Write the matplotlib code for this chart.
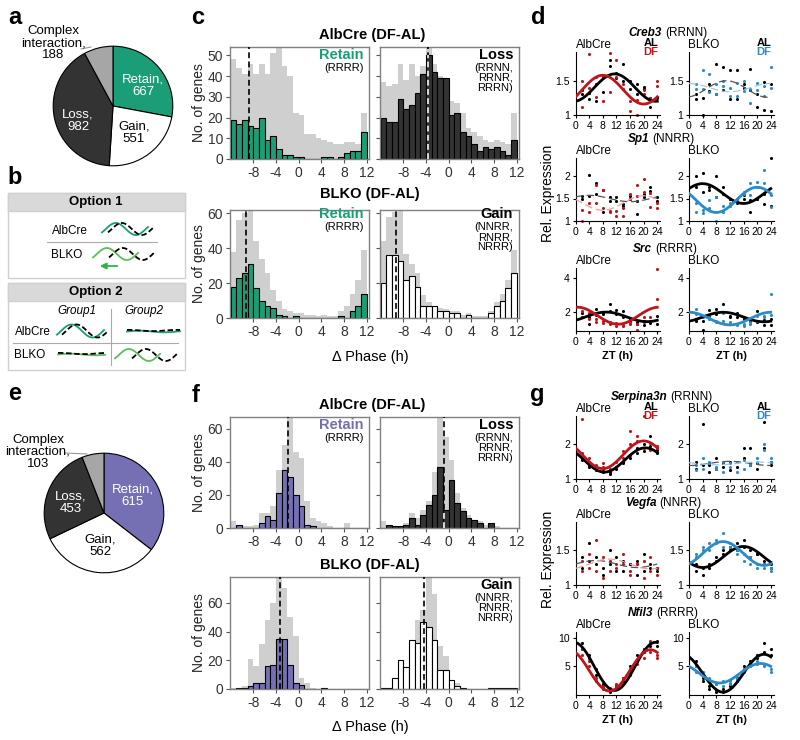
import numpy as np
import matplotlib
matplotlib.use('Agg')
import matplotlib.pyplot as plt
from matplotlib.patches import Rectangle, FancyArrowPatch
from matplotlib.ticker import FormatStrFormatter

plt.rcParams['font.family'] = ['Liberation Sans', 'DejaVu Sans']
plt.rcParams['axes.unicode_minus'] = False

W, H = 800, 740
GREEN = '#1b9e77'
PURPLE = '#7570b3'
DARK = '#333333'
CPLX = '#a6a6a6'
HGREY = '#cfcfcf'
RED = '#c0141c'
BLUE = '#2a8bcb'

# ---------------- a / e : pies ----------------
pie_labels = ['Retain', 'Gain', 'Loss', 'Complex\ninteraction']
pie_a = [667, 551, 982, 188]
pie_e = [615, 562, 453, 103]

# ---------------- c / f : delta phase histograms (1 h bins, -12..12) ----------------
bin_left = list(range(-12, 12))
retain_codes = ['RRRR']
loss_codes = ['RRNN', 'RRNR', 'RRRN']
gain_codes = ['NNRR', 'RNRR', 'NRRR']

c_alb_retain = [19, 17, 19, 16, 15, 20, 9, 11, 5, 2, 2, 1, 1, 0, 0, 0, 1, 1, 0, 1, 3, 4, 4, 13]
c_alb_retain_bg = [48, 44, 41, 46, 41, 46, 41, 51, 54, 45, 40, 22, 21, 12, 12, 10, 9, 8, 7, 7, 8, 8, 7, 22]
c_alb_loss = [20, 18, 18, 29, 24, 26, 32, 41, 50, 42, 39, 39, 21, 22, 13, 11, 7, 4, 6, 5, 6, 4, 2, 9]
c_alb_loss_bg = [37, 35, 36, 46, 38, 46, 40, 45, 54, 46, 40, 39, 28, 27, 22, 15, 13, 11, 9, 8, 9, 8, 7, 22]
c_blko_retain = [18, 23, 26, 31, 17, 10, 7, 6, 2, 1, 0, 1, 0, 0, 0, 0, 0, 0, 0, 1, 0, 4, 7, 14]
c_blko_retain_bg = [38, 56, 60, 62, 44, 34, 26, 16, 10, 5, 4, 3, 3, 2, 2, 1, 2, 1, 1, 4, 7, 14, 22, 39]
c_blko_gain = [20, 36, 36, 33, 22, 24, 18, 7, 7, 7, 4, 4, 3, 3, 0, 2, 0, 0, 0, 3, 7, 10, 17, 26]
c_blko_gain_bg = [44, 58, 61, 62, 37, 31, 26, 13, 9, 7, 6, 5, 4, 4, 2, 3, 1, 1, 1, 4, 9, 14, 22, 39]
c_medians = [-8.8, -3.6, -9.2, -9.2]

f_alb_retain = [0, 2, 0, 0, 0, 3, 7, 5, 21, 35, 31, 20, 13, 2, 1, 0, 0, 0, 0, 0, 0, 0, 0, 0]
f_alb_retain_bg = [4, 0, 1, 1, 2, 9, 9, 13, 35, 50, 70, 46, 42, 16, 6, 4, 3, 1, 0, 0, 3, 0, 0, 0]
f_alb_loss = [0, 2, 1, 1, 2, 6, 2, 8, 14, 20, 37, 11, 29, 15, 10, 6, 5, 3, 0, 3, 0, 0, 0, 0]
f_alb_loss_bg = [4, 2, 1, 1, 3, 9, 6, 11, 16, 34, 70, 55, 41, 21, 12, 8, 5, 4, 2, 3, 1, 0, 0, 0]
f_blko_retain = [0, 1, 1, 2, 4, 4, 16, 17, 35, 35, 17, 4, 3, 0, 0, 0, 1, 0, 0, 0, 0, 0, 0, 0]
f_blko_retain_bg = [1, 1, 2, 21, 16, 31, 48, 60, 78, 70, 50, 37, 8, 4, 1, 0, 0, 0, 0, 0, 0, 0, 0, 0]
f_blko_gain = [1, 1, 8, 20, 15, 34, 32, 47, 43, 34, 13, 13, 6, 2, 1, 0, 0, 0, 0, 1, 1, 1, 1, 1]
f_blko_gain_bg = [1, 1, 3, 16, 12, 34, 48, 55, 78, 66, 30, 23, 6, 4, 1, 0, 0, 0, 0, 0, 0, 0, 0, 0]
f_medians = [-1.9, -0.8, -3.2, -4.3]

# ---------------- d / g : expression time courses ----------------
# ZT 2..24, replicate 1 then replicate 2
zt = list(range(2, 25, 2)) * 2

creb3_alb_al = [1.37, 1.24, 1.20, 1.34, 1.80, 1.54, 1.75, 1.50, 1.45, 1.41, 1.12, 1.25,
                1.30, 1.32, 1.45, 1.55, 1.72, 1.62, 1.50, 1.38, 1.30, 1.38, 1.25, 1.27]
creb3_alb_df = [1.50, 1.89, 1.27, 1.20, 1.90, 1.80, 1.45, 1.06, 1.00, 1.36, 1.25, 1.50,
                1.12, 1.40, 1.55, 1.57, 1.33, 1.55, 1.38, 1.20, 1.22, 1.30, 1.20, 1.43]
creb3_blko_al = [1.23, 1.00, 1.35, 1.75, 1.70, 1.66, 1.66, 1.45, 1.67, 1.12, 1.08, 1.06,
                 1.30, 1.25, 1.45, 1.30, 1.36, 1.23, 1.23, 1.40, 1.36, 1.30, 1.48, 1.46]
creb3_blko_df = [1.45, 1.66, 1.60, 1.45, 1.50, 1.28, 1.47, 1.50, 1.38, 1.47, 1.28, 1.70,
                 1.38, 1.38, 1.33, 1.30, 1.42, 1.40, 1.28, 1.35, 1.18, 1.36, 1.42, 1.40]
# mesor, amplitude, peak ZT : AlbCre AL, AlbCre DF, BLKO AL, BLKO DF
creb3_fit = [(1.40, 0.20, 11.5), (1.37, 0.21, 8.0), (1.38, 0.12, 11.0), (1.40, 0.06, 0.0)]

sp1_alb_al = [1.56, 2.02, 1.85, 1.70, 1.53, 1.53, 1.38, 1.56, 1.15, 1.53, 1.76, 1.53,
              1.50, 1.56, 1.60, 1.20, 1.45, 1.45, 1.33, 1.50, 1.45, 1.60, 1.67, 1.45]
sp1_alb_df = [1.24, 1.40, 1.81, 1.69, 1.22, 1.22, 1.11, 1.60, 1.79, 1.93, 1.63, 1.40,
              1.00, 1.20, 1.40, 1.30, 1.20, 1.11, 1.28, 1.50, 1.55, 1.65, 1.32, 1.28]
sp1_blko_al = [2.00, 2.07, 1.69, 2.00, 1.76, 1.48, 1.48, 1.58, 1.20, 1.48, 1.38, 2.39,
               1.75, 1.65, 1.75, 1.54, 1.60, 1.48, 1.40, 1.50, 1.46, 1.50, 1.60, 1.33]
sp1_blko_df = [1.40, 1.18, 1.46, 1.53, 1.33, 1.33, 1.43, 1.65, 1.84, 1.87, 2.13, 1.58,
               1.20, 1.25, 1.30, 1.00, 1.20, 1.40, 1.45, 1.60, 1.58, 1.76, 1.85, 1.32]
sp1_fit = [(1.50, 0.07, 4.0), (1.40, 0.16, 20.0), (1.61, 0.22, 4.0), (1.47, 0.28, 20.0)]

src_alb_al = [1.94, 1.33, 2.19, 1.90, 2.50, 2.13, 2.10, 1.60, 1.45, 1.24, 1.40, 1.80,
              1.70, 1.75, 1.85, 2.00, 2.05, 1.90, 1.75, 1.50, 1.30, 1.50, 1.35, 1.33]
src_alb_df = [1.75, 1.94, 1.43, 1.37, 1.43, 1.18, 1.18, 1.40, 0.95, 1.70, 1.70, 2.76,
              2.10, 1.60, 1.60, 1.50, 1.30, 1.35, 1.25, 1.30, 1.30, 1.40, 1.50, 4.55]
src_blko_al = [1.49, 0.95, 2.13, 2.19, 2.48, 1.70, 1.94, 1.70, 1.60, 2.10, 1.52, 1.60,
               1.60, 1.50, 1.80, 1.90, 2.00, 1.80, 1.70, 1.60, 1.50, 1.40, 1.24, 1.24]
src_blko_df = [2.19, 1.80, 1.70, 1.49, 1.94, 1.33, 1.24, 1.18, 1.33, 1.80, 1.70, 3.05,
               1.90, 1.70, 1.60, 1.40, 1.50, 1.40, 1.30, 1.30, 1.40, 1.50, 1.80, 1.85]
src_fit = [(1.73, 0.28, 9.0), (1.80, 0.50, 0.5), (1.72, 0.28, 10.0), (1.63, 0.37, 0.0)]

serp_alb_al = [1.55, 1.35, 1.30, 1.20, 1.15, 1.30, 1.45, 1.70, 1.90, 2.00, 2.23, 1.85,
               1.60, 1.40, 1.25, 1.30, 1.20, 1.35, 1.50, 1.60, 1.75, 1.80, 1.95, 1.75]
serp_alb_df = [2.73, 1.60, 1.40, 1.35, 1.25, 1.35, 1.60, 2.38, 2.23, 2.82, 2.05, 1.95,
               1.75, 1.50, 1.30, 1.45, 1.30, 1.50, 1.80, 2.00, 2.10, 1.90, 1.85, 1.90]
serp_blko_al = [1.50, 2.60, 1.40, 1.30, 1.45, 1.50, 1.35, 1.60, 1.90, 1.45, 2.65, 1.50,
                1.30, 1.40, 1.20, 1.60, 1.35, 1.25, 1.50, 1.90, 1.40, 1.30, 1.90, 1.40]
serp_blko_df = [1.40, 1.30, 1.50, 1.35, 1.20, 1.45, 1.50, 1.30, 1.40, 1.50, 2.00, 1.60,
                1.25, 1.60, 1.45, 1.30, 1.50, 1.35, 1.20, 1.55, 1.45, 1.60, 1.85, 1.50]
serp_fit = [(1.55, 0.35, 20.5), (1.70, 0.40, 20.0), (1.45, 0.06, 12.0), (1.45, 0.04, 20.0)]

vegfa_alb_al = [1.40, 1.60, 1.30, 1.25, 1.50, 1.20, 1.35, 1.30, 1.15, 1.45, 1.25, 1.20,
                1.25, 1.35, 1.40, 1.15, 1.30, 1.40, 1.20, 1.30, 1.35, 1.20, 1.30, 1.25]
vegfa_alb_df = [1.20, 1.45, 1.65, 1.10, 1.35, 1.30, 1.45, 1.20, 1.30, 1.10, 1.40, 1.25,
                1.35, 1.25, 1.20, 1.40, 1.20, 1.25, 1.30, 1.15, 1.30, 1.35, 1.20, 1.15]
vegfa_blko_al = [1.30, 1.25, 1.30, 1.35, 1.45, 1.50, 1.60, 1.55, 1.50, 1.45, 1.35, 1.30,
                 1.20, 1.15, 1.25, 1.40, 1.50, 1.55, 1.50, 1.65, 1.40, 1.45, 1.30, 1.25]
vegfa_blko_df = [1.45, 1.55, 1.60, 1.65, 1.75, 1.55, 1.50, 1.45, 1.40, 1.30, 1.25, 1.20,
                 1.40, 1.50, 1.50, 1.60, 1.55, 1.60, 1.45, 1.35, 1.30, 1.25, 1.30, 1.25]
vegfa_fit = [(1.30, 0.05, 6.0), (1.30, 0.07, 10.0), (1.40, 0.15, 16.0), (1.45, 0.17, 10.0)]

nfil3_alb_al = [8.0, 6.5, 3.5, 2.0, 1.0, 1.5, 2.5, 4.0, 6.0, 7.5, 8.5, 9.5,
                9.0, 7.0, 4.5, 1.5, 0.5, 1.0, 3.0, 5.0, 7.0, 8.0, 9.0, 8.5]
nfil3_alb_df = [7.0, 5.0, 3.0, 1.5, 1.0, 1.5, 2.0, 3.5, 5.5, 6.5, 7.5, 7.0,
                8.0, 6.0, 2.5, 1.0, 1.2, 2.0, 3.0, 4.5, 6.0, 8.0, 9.5, 6.5]
nfil3_blko_al = [5.0, 3.0, 1.5, 0.5, 1.0, 1.5, 2.5, 4.5, 6.0, 7.0, 7.5, 8.0,
                 6.0, 2.5, 1.0, 0.8, 0.5, 2.0, 3.0, 5.0, 5.5, 6.5, 9.0, 7.0]
nfil3_blko_df = [4.0, 3.5, 2.5, 2.0, 2.5, 2.0, 3.0, 4.0, 5.0, 5.5, 5.0, 4.5,
                 5.0, 4.0, 3.0, 2.0, 1.5, 2.5, 3.5, 4.5, 5.0, 6.0, 5.5, 4.0]
nfil3_fit = [(5.0, 4.2, 23.5), (4.3, 3.6, 22.0), (3.8, 3.3, 22.0), (3.8, 1.7, 21.0)]


def box(l, t, r, b):
    return [l / W, 1 - b / H, (r - l) / W, (b - t) / H]


fig = plt.figure(figsize=(8, 7.4), dpi=100)
ov = fig.add_axes([0, 0, 1, 1], zorder=5)
ov.set_xlim(0, W)
ov.set_ylim(H, 0)
ov.axis('off')
renderer = fig.canvas.get_renderer()


def txt(x, y, s, **kw):
    kw.setdefault('ha', 'center')
    kw.setdefault('va', 'center')
    kw.setdefault('fontsize', 9)
    return ov.text(x, y, s, **kw)


# ---------- panel letters ----------
for lab, x, y in [('a', 15, 17), ('b', 15, 177), ('c', 198, 17), ('d', 538, 17),
                  ('e', 15, 393), ('f', 196, 395), ('g', 537, 395)]:
    txt(x, y, lab, fontsize=17, weight='bold')


# ---------- pies ----------
def draw_pie(rect, counts, main, pos, leader):
    ax = fig.add_axes(box(*rect))
    ax.pie(counts, colors=[main, 'white', DARK, CPLX], startangle=90, counterclock=False,
           wedgeprops=dict(edgecolor='black', linewidth=0.8))
    ax.set_xlim(-1.02, 1.02)
    ax.set_ylim(-1.02, 1.02)
    ax.set_aspect('equal')
    ax.axis('off')
    tcol = ['white', 'black', 'white', 'black']
    for lab, n, (x, y), c in zip(pie_labels, counts, pos, tcol):
        txt(x, y, f'{lab},\n{n}', color=c, fontsize=9.5, linespacing=1.05)
    ov.plot(leader[0], leader[1], color='#999999', lw=0.8)


draw_pie((52, 45, 174, 167), pie_a, GREEN,
         [(143, 86), (134, 133), (78, 121), (53, 43)], ([81, 91], [49, 47]))
draw_pie((43, 452, 165, 574), pie_e, PURPLE,
         [(133, 496), (100, 546), (71, 503), (38, 452)], ([65, 87], [453, 454]))

# ---------- panel b schematic ----------
LGREEN = '#5dbd5d'


def wave(x0, x1, yc, amp, period, phase, color, dashed=False, lw=1.3):
    xs = np.linspace(x0, x1, 80)
    ys = yc - amp * np.sin(2 * np.pi * (xs - x0) / period + phase)
    ov.plot(xs, ys, color=color, lw=lw, ls=(0, (3, 1.5)) if dashed else '-')


for top, bot, title in [(193, 278, 'Option 1'), (283, 370, 'Option 2')]:
    ov.add_patch(Rectangle((8, top), 177, bot - top, facecolor='white', edgecolor='#d0d0d0', lw=1))
    ov.add_patch(Rectangle((8, top), 177, 18, facecolor='#d9d9d9', edgecolor='#d0d0d0', lw=1))
    txt(96, top + 9.5, title, fontsize=9.5, weight='bold')

txt(70, 231, 'AlbCre', fontsize=8.5)
txt(67, 255, 'BLKO', fontsize=8.5)
ov.plot([47, 157], [242, 242], color='#aaaaaa', lw=0.8)
wave(102, 148, 229, 6, 40, -0.6, GREEN)
wave(108, 153, 229, 6, 40, -0.6, 'black', dashed=True)
wave(93, 138, 254, 6, 40, -0.6, LGREEN)
wave(109, 154, 254, 6, 40, -0.6, 'black', dashed=True)
ov.add_patch(FancyArrowPatch((120, 266), (97, 266), arrowstyle='-|>', mutation_scale=9,
                             color='#2db34a', lw=1.3))

txt(77, 311, 'Group1', fontsize=8.5, style='italic')
txt(144, 311, 'Group2', fontsize=8.5, style='italic')
txt(33, 332, 'AlbCre', fontsize=8.5)
txt(30, 355, 'BLKO', fontsize=8.5)
ov.plot([111, 111], [309, 365], color='#aaaaaa', lw=0.8)
ov.plot([13, 178], [343, 343], color='#aaaaaa', lw=0.8)
wave(57, 104, 331, 6.5, 42, -0.6, GREEN)
wave(62, 108, 331, 6.5, 42, -0.6, 'black', dashed=True)
wave(127, 180, 331.5, 0.8, 50, 0, GREEN)
wave(127, 180, 330.5, 0.6, 50, 1.5, 'black', dashed=True)
wave(58, 105, 354.5, 0.8, 50, 0, LGREEN)
wave(58, 105, 353.5, 0.6, 50, 1.5, 'black', dashed=True)
wave(115, 160, 355, 6, 40, -0.6, LGREEN)
wave(132, 177, 355, 6, 40, -0.6, 'black', dashed=True)


# ---------- c / f histograms ----------
def hist_panel(rect, counts, bg, color, median, ymax, yticks, left):
    ax = fig.add_axes(box(*rect))
    ax.bar(bin_left, bg, width=1, align='edge', color=HGREY, edgecolor='none', zorder=1)
    ax.bar(bin_left, counts, width=1, align='edge', color=color, edgecolor='black',
           linewidth=0.8, zorder=2)
    ax.axvline(median, color='black', ls=(0, (3.5, 2)), lw=1.2, zorder=3)
    if color == DARK:
        k = int(np.floor(median)) + 12
        ax.vlines(median, 0, counts[k], color='white', ls=(0, (3.5, 2)), lw=1.2, zorder=4)
    ax.set_xlim(-12.1, 12.4)
    ax.set_ylim(0, ymax)
    ax.set_xticks([-8, -4, 0, 4, 8, 12])
    ax.set_yticks(yticks)
    for s in ax.spines.values():
        s.set_color('#808080')
        s.set_linewidth(1)
    ax.tick_params(direction='out', length=3, width=0.8, color='#555555',
                   labelsize=10, labelcolor='#333333', pad=2)
    if left:
        ax.set_ylabel('No. of genes', fontsize=10, color='#222222', labelpad=1)
    else:
        ax.tick_params(labelleft=False)
    return ax


def code_text(x, y, name, codes, color):
    txt(x, y, name, ha='right', fontsize=10.5, weight='bold', color=color)
    body = '(' + ',\n'.join(codes) + ')'
    txt(x, y + 8, body, ha='right', va='top', fontsize=8, linespacing=1.0)


L1, R1, L2, R2 = 230, 369, 380, 519
# panel c
hist_panel((L1, 47, R1, 159), c_alb_retain, c_alb_retain_bg, GREEN, c_medians[0], 54, [0, 10, 20, 30, 40, 50], True)
hist_panel((L2, 47, R2, 159), c_alb_loss, c_alb_loss_bg, DARK, c_medians[1], 54, [0, 10, 20, 30, 40, 50], False)
hist_panel((L1, 210, R1, 318), c_blko_retain, c_blko_retain_bg, GREEN, c_medians[2], 62, [0, 20, 40, 60], True)
hist_panel((L2, 210, R2, 318), c_blko_gain, c_blko_gain_bg, 'white', c_medians[3], 62, [0, 20, 40, 60], False)
txt(372, 35, 'AlbCre (DF-AL)', fontsize=10.5, weight='bold')
txt(370, 194, 'BLKO (DF-AL)', fontsize=10.5, weight='bold')
txt(370, 357, 'Δ Phase (h)', fontsize=10.5)
code_text(364, 55, 'Retain', retain_codes, GREEN)
code_text(513, 55, 'Loss', loss_codes, 'black')
code_text(364, 214, 'Retain', retain_codes, GREEN)
code_text(513, 214, 'Gain', gain_codes, 'black')

# panel f
hist_panel((L1, 417, R1, 528), f_alb_retain, f_alb_retain_bg, PURPLE, f_medians[0], 67, [0, 20, 40, 60], True)
hist_panel((L2, 417, R2, 528), f_alb_loss, f_alb_loss_bg, DARK, f_medians[1], 67, [0, 20, 40, 60], False)
hist_panel((L1, 577, R1, 689), f_blko_retain, f_blko_retain_bg, PURPLE, f_medians[2], 78, [0, 20, 40, 60], True)
hist_panel((L2, 577, R2, 689), f_blko_gain, f_blko_gain_bg, 'white', f_medians[3], 78, [0, 20, 40, 60], False)
txt(372, 405, 'AlbCre (DF-AL)', fontsize=10.5, weight='bold')
txt(370, 565, 'BLKO (DF-AL)', fontsize=10.5, weight='bold')
txt(370, 727, 'Δ Phase (h)', fontsize=10.5)
code_text(364, 425, 'Retain', retain_codes, PURPLE)
code_text(513, 425, 'Loss', loss_codes, 'black')
code_text(513, 585, 'Gain', gain_codes, 'black')


# ---------- d / g rhythms ----------
def rhythm_axes(rect, al, df, fit_al, fit_df, flag_al, flag_df, df_col, df_light,
                ylim, yticks, xlabel):
    ax = fig.add_axes(box(*rect))
    ax.scatter(zt, al, s=5, color='black', zorder=2, linewidths=0, clip_on=False)
    ax.scatter(zt, df, s=5, color=df_col, zorder=2, linewidths=0, clip_on=False)
    t = np.linspace(0, 24, 121)
    for (m, a, p), flag, col, light in [(fit_al, flag_al, 'black', '#555555'),
                                        (fit_df, flag_df, df_col, df_light)]:
        y = m + a * np.cos(2 * np.pi * (t - p) / 24)
        if flag == 'R':
            ax.plot(t, y, color=col, lw=2.0, zorder=3)
        else:
            ax.plot(t, y, color=light, lw=0.9, ls=(0, (6, 3)), zorder=3)
    ax.set_xlim(0, 24.8)
    ax.set_ylim(*ylim)
    ax.set_xticks(range(0, 25, 4))
    ax.set_yticks(yticks)
    ax.yaxis.set_major_formatter(FormatStrFormatter('%g'))
    for s in ['top', 'right']:
        ax.spines[s].set_visible(False)
    for s in ['left', 'bottom']:
        ax.spines[s].set_linewidth(0.8)
    ax.tick_params(direction='out', length=2.5, width=0.8, labelsize=7.5, pad=1.5)
    if xlabel:
        ax.set_xlabel('ZT (h)', fontsize=8, weight='bold', labelpad=3)
    return ax


def gene_title(cx, y, name, code):
    gap = 3
    t1 = txt(0, y, name, ha='left', va='baseline', fontsize=8.5, style='italic', weight='bold')
    t2 = txt(0, y, f'({code})', ha='left', va='baseline', fontsize=8.5)
    w1 = t1.get_window_extent(renderer).width
    w2 = t2.get_window_extent(renderer).width
    x0 = cx - (w1 + gap + w2) / 2
    t1.set_x(x0)
    t2.set_x(x0 + w1 + gap)


def gene_block(top, name, code, series, fits, ylim, yticks, cx, legend, xlabel):
    al_a, df_a, al_b, df_b = series
    bottom = top + 63
    rhythm_axes((575.5, top, 660, bottom), al_a, df_a, fits[0], fits[1], code[0], code[1],
                RED, '#eba0a0', ylim, yticks, xlabel)
    rhythm_axes((689, top, 773.5, bottom), al_b, df_b, fits[2], fits[3], code[2], code[3],
                BLUE, '#9fcbea', ylim, yticks, xlabel)
    gene_title(cx, top - 16, name, code)
    txt(576, top - 7, 'AlbCre', ha='left', fontsize=8.5)
    txt(688, top - 7, 'BLKO', ha='left', fontsize=8.5)
    if legend:
        txt(658, top - 9, 'AL', ha='right', fontsize=8, weight='bold')
        txt(658, top, 'DF', ha='right', fontsize=8, weight='bold', color=RED)
        txt(771, top - 9, 'AL', ha='right', fontsize=8, weight='bold')
        txt(771, top, 'DF', ha='right', fontsize=8, weight='bold', color=BLUE)


gene_block(52, 'Creb3', 'RRNN', (creb3_alb_al, creb3_alb_df, creb3_blko_al, creb3_blko_df),
           creb3_fit, (1, 1.92), [1, 1.5], 668, True, False)
gene_block(158, 'Sp1', 'NNRR', (sp1_alb_al, sp1_alb_df, sp1_blko_al, sp1_blko_df),
           sp1_fit, (1, 2.4), [1, 1.5, 2], 661, False, False)
gene_block(268, 'Src', 'RRRR', (src_alb_al, src_alb_df, src_blko_al, src_blko_df),
           src_fit, (0.9, 4.6), [2, 4], 665, False, True)
txt(548, 193, 'Rel. Expression', rotation=90, fontsize=10)

gene_block(416, 'Serpina3n', 'RRNN', (serp_alb_al, serp_alb_df, serp_blko_al, serp_blko_df),
           serp_fit, (1, 2.82), [1, 2], 662, True, False)
gene_block(522, 'Vegfa', 'NNRR', (vegfa_alb_al, vegfa_alb_df, vegfa_blko_al, vegfa_blko_df),
           vegfa_fit, (1, 1.9), [1, 1.5], 663, False, False)
gene_block(632, 'Nfil3', 'RRRR', (nfil3_alb_al, nfil3_alb_df, nfil3_blko_al, nfil3_blko_df),
           nfil3_fit, (0, 11), [5, 10], 663, False, True)
txt(548, 559, 'Rel. Expression', rotation=90, fontsize=10)

fig.savefig('out.png', dpi=100)
